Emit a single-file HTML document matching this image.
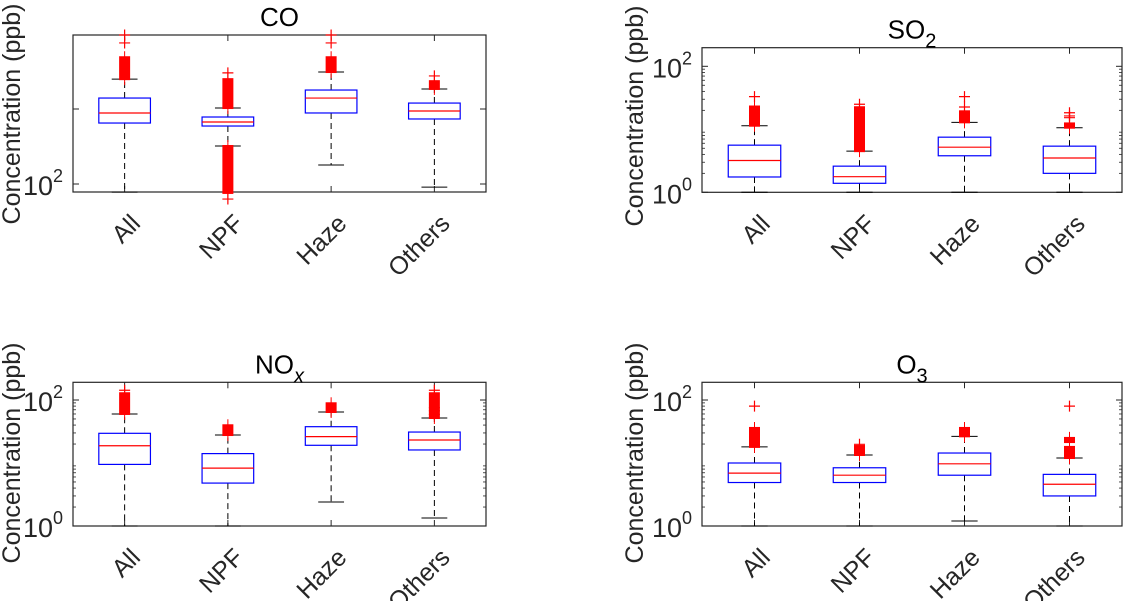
<!DOCTYPE html>
<html><head><meta charset="utf-8"><style>
html,body{margin:0;padding:0;background:#fff;}
svg{display:block;font-family:"Liberation Sans",Arial,sans-serif;}
</style></head><body>
<svg id="fig" width="1124" height="601" viewBox="0 0 1124 601" xmlns="http://www.w3.org/2000/svg"></svg>
<script>
const categories = ["All","NPF","Haze","Others"];

// CO (ppb)
const coLow = [78, 321, 179, 91];
const coQ1 = [650, 593, 885, 736];
const coMed = [885, 671, 1400, 940];
const coQ3 = [1400, 782, 1790, 1200];
const coHigh = [2500, 1030, 3110, 1850];
const coBands = [[[2500,4900]], [[1030,2500],[76,321]], [[3110,4900]], [[1850,2350]]];
const coSingles = [[7600,9700], [3030,63], [7600,9700], [2760]];

// SO2
const so2Low = [1.0, 1.0, 1.0, 1.0];
const so2Q1 = [1.75, 1.39, 3.8, 2.0];
const so2Med = [3.2, 1.77, 5.2, 3.5];
const so2Q3 = [5.6, 2.6, 7.5, 5.4];
const so2High = [11.4, 4.5, 12.9, 10.6];
const so2Bands = [[[11.4,23]], [[4.5,22.4]], [[12.9,19.3]], [[10.6,12.4]]];
const so2Singles = [[33], [25], [22.6,33], [15.3,16.3,18.3]];

// NOx
const noxLow = [1.0, 1.0, 2.4, 1.34];
const noxQ1 = [9.5, 4.8, 19.1, 16.1];
const noxMed = [18.8, 8.3, 26.2, 23.2];
const noxQ3 = [29.6, 14.1, 37.7, 31];
const noxHigh = [60, 27.8, 64.5, 51.8];
const noxBands = [[[60,128]], [[27.8,39.7]], [[64.5,88.7]], [[51.8,128]]];
const noxSingles = [[143], [], [], [59,67.6,75.5,143]];

// O3
const o3Low = [1.0, 1.0, 1.2, 1.0];
const o3Q1 = [4.9, 4.9, 6.4, 3.0];
const o3Med = [6.9, 6.4, 9.7, 4.6];
const o3Q3 = [10, 8.4, 14.4, 6.6];
const o3High = [18, 13.4, 26.5, 12];
const o3Bands = [[[18,36]], [[13.4,18.6]], [[26.5,36]], [[12,18],[21.5,25]]];
const o3Singles = [[80], [19.8], [], [80]];

const NS = "http://www.w3.org/2000/svg";
const svg = document.getElementById('fig');
function el(tag, attrs, parent){
  const e = document.createElementNS(NS, tag);
  for (const k in attrs) e.setAttribute(k, attrs[k]);
  (parent||svg).appendChild(e);
  return e;
}

const panels = [
  {name:'co', title:'CO', sub:'', x0:73, x1:486, y0:35, y1:192, ref:2, refPix:184, dec:75, majors:[100,1000], majorLabels:['2',''], minors:false, yl:[12,114],
   low:coLow,q1:coQ1,med:coMed,q3:coQ3,high:coHigh,bands:coBands,singles:coSingles},
  {name:'so2', title:'SO', sub:'2', x0:702, x1:1122, y0:47.7, y1:192.3, ref:0, refPix:192.3, dec:63, majors:[1,100], majorLabels:['0','2'], minors:true, yl:[635,116],
   low:so2Low,q1:so2Q1,med:so2Med,q3:so2Q3,high:so2High,bands:so2Bands,singles:so2Singles},
  {name:'nox', title:'NO', sub:'x', x0:73, x1:486, y0:382.3, y1:526, ref:0, refPix:526, dec:63, majors:[1,100], majorLabels:['0','2'], minors:true, yl:[12,453],
   low:noxLow,q1:noxQ1,med:noxMed,q3:noxQ3,high:noxHigh,bands:noxBands,singles:noxSingles},
  {name:'o3', title:'O', sub:'3', x0:702, x1:1122, y0:382.3, y1:526, ref:0, refPix:526, dec:63, majors:[1,100], majorLabels:['0','2'], minors:true, yl:[635,453],
   low:o3Low,q1:o3Q1,med:o3Med,q3:o3Q3,high:o3High,bands:o3Bands,singles:o3Singles}
];

panels.forEach(p => {
  const g = el('g', {});
  
  
  const Y = v => p.refPix - (Math.log10(v) - p.ref) * p.dec;
  const W = p.x1 - p.x0;
  const X = i => p.x0 + (i + 0.5) / categories.length * W;
  const unit = W / categories.length;
  const boxHW = unit * 0.25, capHW = unit * 0.125, bandHW = 5.5;

  const frame = el('rect', {x:p.x0, y:p.y0, width:W, height:p.y1-p.y0, fill:'none', stroke:'#262626', 'stroke-width':1.2}, g);
  
  

  p.majors.forEach((v, k) => {
    const y = Y(v);
    el('line', {x1:p.x0, x2:p.x0+6, y1:y, y2:y, stroke:'#262626'}, g);
    el('line', {x1:p.x1, x2:p.x1-6, y1:y, y2:y, stroke:'#262626'}, g);
    if (p.majorLabels[k]) {
      const t = el('text', {x:p.x0-10, y:y+11, 'font-size':27, fill:'#262626', 'text-anchor':'end'}, g);
      
      
      t.appendChild(document.createTextNode('10'));
      const s = el('tspan', {dy:-13, 'font-size':18}, t);
      s.textContent = p.majorLabels[k];
    }
  });
  if (p.minors) {
    for (let d = -1; d <= 2; d++) for (let m = 2; m <= 9; m++) {
      const v = m * Math.pow(10, d);
      const y = Y(v);
      if (y < p.y0 || y > p.y1) continue;
      el('line', {x1:p.x0, x2:p.x0+3, y1:y, y2:y, stroke:'#262626', 'stroke-width':0.8}, g);
      el('line', {x1:p.x1, x2:p.x1-3, y1:y, y2:y, stroke:'#262626', 'stroke-width':0.8}, g);
    }
  }

  categories.forEach((c, i) => {
    const x = X(i);
    el('line', {x1:x, x2:x, y1:p.y1, y2:p.y1-6, stroke:'#262626'}, g);
    el('line', {x1:x, x2:x, y1:p.y0, y2:p.y0+6, stroke:'#262626'}, g);
    const ax = x + 17, ay = p.y1 + 33;
    const tl = el('text', {x:ax, y:ay, 'font-size':25, fill:'#262626', 'text-anchor':'end', transform:`rotate(-45 ${ax} ${ay})`}, g);
    
    
    tl.textContent = c;

    const wl = el('line', {x1:x, x2:x, y1:Y(p.q3[i]), y2:Y(p.high[i]), stroke:'#000', 'stroke-dasharray':'6,4'}, g);
    
    
    const wl2 = el('line', {x1:x, x2:x, y1:Y(p.q1[i]), y2:Y(p.low[i]), stroke:'#000', 'stroke-dasharray':'6,4'}, g);
    
    
    [p.high[i], p.low[i]].forEach(v => {
      const cap = el('line', {x1:x-capHW, x2:x+capHW, y1:Y(v), y2:Y(v), stroke:'#000'}, g);
      
      
    });
    const b = el('rect', {x:x-boxHW, y:Y(p.q3[i]), width:2*boxHW, height:Y(p.q1[i])-Y(p.q3[i]), fill:'none', stroke:'#0000ff', 'stroke-width':1.2}, g);
    
    
    const md = el('line', {x1:x-boxHW, x2:x+boxHW, y1:Y(p.med[i]), y2:Y(p.med[i]), stroke:'#ff0000', 'stroke-width':1.2}, g);
    
    
    p.bands[i].forEach(bd => {
      const top = Y(bd[1]), bot = Y(bd[0]);
      const r = el('rect', {x:x-bandHW, y:top-1, width:2*bandHW, height:bot-top+2, fill:'#ff0000'}, g);
      
      
      el('line', {x1:x, x2:x, y1:top-6, y2:bot+6, stroke:'#ff0000'}, g);
    });
    p.singles[i].forEach(v => {
      const y = Y(v);
      const pg = el('path', {d:`M${x-bandHW},${y}H${x+bandHW}M${x},${y-bandHW}V${y+bandHW}`, stroke:'#ff0000', 'stroke-width':1.2, fill:'none'}, g);
      
      
    });
  });

  const cx = (p.x0 + p.x1) / 2;
  const tt = el('text', {x:cx, y:p.y0-9, 'font-size':26, fill:'#000', 'text-anchor':'middle'}, g);
  
  
  tt.appendChild(document.createTextNode(p.title));
  if (p.sub) {
    const s = el('tspan', {dy:9, 'font-size':20}, tt);
    if (p.sub === 'x') s.setAttribute('font-style', 'italic');
    s.textContent = p.sub;
  }
  const yl = el('text', {x:p.yl[0], y:p.yl[1], 'font-size':25, fill:'#262626', 'text-anchor':'middle', 'dominant-baseline':'central', transform:`rotate(-90 ${p.yl[0]} ${p.yl[1]})`}, g);
  
  
  yl.textContent = 'Concentration (ppb)';
});
</script>
</body></html>
